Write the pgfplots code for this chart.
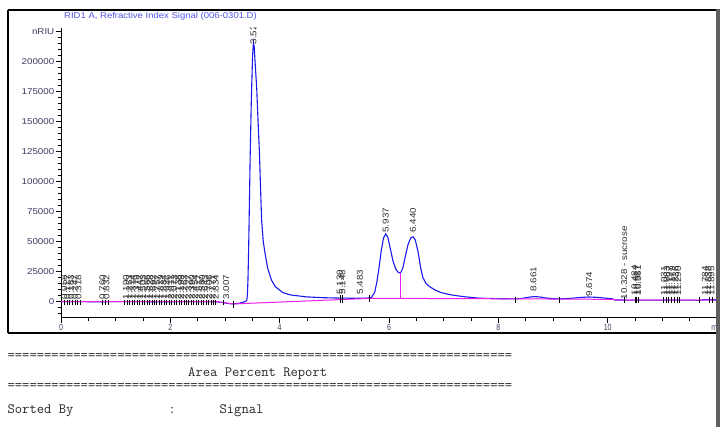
\documentclass[border=0pt]{standalone}
\usepackage{fontspec}
\usepackage{pgfplots}
\pgfplotsset{compat=1.18}
\usepackage{pgfplotstable}
\setmainfont{Liberation Sans}
\newfontfamily\chemfont[FakeStretch=1.15]{Liberation Sans}
\newfontfamily\titlefont[FakeStretch=1.12]{Liberation Sans}
\newfontfamily\chemcond[FakeStretch=0.78]{Liberation Sans}
\definecolor{sigblue}{RGB}{25,25,235}
\definecolor{basepink}{RGB}{235,30,235}
\definecolor{tickcol}{RGB}{60,60,100}
\definecolor{titlecol}{RGB}{85,85,235}
\definecolor{labcol}{RGB}{45,45,45}
\definecolor{bargrey}{RGB}{95,95,95}

\pgfplotstableread{
t v
0.00 0
0.30 100
0.60 -100
0.90 0
1.20 100
1.50 0
1.80 -100
2.10 0
2.40 100
2.70 0
2.85 -100
2.95 -700
3.05 -1500
3.15 -1900
3.25 -1400
3.33 -500
3.38 400
3.40 1500
3.41 6000
3.42 18000
3.43 38000
3.44 64000
3.46 120000
3.48 165000
3.49 182000
3.505 205000
3.52 216000
3.535 212000
3.55 200000
3.58 178000
3.605 150000
3.63 124000
3.65 95000
3.67 68000
3.70 50000
3.73 41000
3.78 28000
3.85 18000
3.92 12500
4.06 7500
4.20 5600
4.49 4000
4.80 3300
5.10 3000
5.40 2800
5.60 3000
5.68 3500
5.74 8000
5.78 17000
5.82 29000
5.86 43000
5.90 53000
5.94 56400
5.98 53500
6.02 45000
6.07 34500
6.12 27500
6.17 24300
6.21 23900
6.25 27500
6.30 38000
6.35 48000
6.40 53300
6.44 54000
6.48 51500
6.53 42000
6.58 28000
6.62 20000
6.68 15000
6.75 12300
6.84 9800
6.95 7600
7.12 5800
7.25 4900
7.42 3900
7.66 2900
8.00 2500
8.32 2300
8.45 2800
8.55 3700
8.65 4200
8.75 4000
8.85 3200
9.00 2500
9.11 2300
9.30 2700
9.50 3500
9.65 3900
9.80 3600
9.95 3000
10.08 2400
10.14 1400
10.50 1300
11.00 1300
11.60 1300
11.68 900
11.75 1700
12.00 1600
}\signal

\pgfplotstableread{
x y lab
0.06 1400 0.058
0.12 1400 0.117
0.18 1400 0.183
0.25 1400 0.247
0.32 1400 0.318
0.76 1400 0.760
0.83 1400 0.832
1.19 1400 1.190
1.25 1400 1.253
1.31 1400 1.314
1.38 1400 1.379
1.44 1400 1.442
1.50 1400 1.503
1.57 1400 1.566
1.63 1400 1.628
1.69 1400 1.692
1.76 1400 1.757
1.82 1400 1.819
1.88 1400 1.884
1.95 1400 1.946
2.01 1400 2.011
2.07 1400 2.073
2.14 1400 2.138
2.20 1400 2.199
2.26 1400 2.263
2.33 1400 2.327
2.39 1400 2.390
2.45 1400 2.454
2.52 1400 2.517
2.58 1400 2.580
2.64 1400 2.643
2.71 1400 2.706
2.77 1400 2.771
2.83 1400 2.834
3.02 1400 3.007
3.52 214000 3.529
5.10 5600 5.130
5.15 5600 5.148
5.47 5600 5.483
5.94 57000 5.937
6.44 57000 6.440
8.64 8000 8.661
9.66 4000 9.674
10.30 1600 {10.328 - sucrose}
10.49 4700 10.484
10.53 4700 10.517
10.56 4700 10.561
11.03 4700 11.031
11.08 4700 11.083
11.13 4700 11.127
11.18 4700 11.179
11.24 4700 11.236
11.29 4700 11.290
11.78 4700 11.784
11.84 4700 11.838
11.90 4700 11.895
}\peaklabels

\begin{document}
\begin{tikzpicture}
\path[use as bounding box] (0pt,0pt) rectangle (727pt,427pt);
\fill[white] (0pt,0pt) rectangle (727pt,427pt);

\begin{axis}[
  at={(61pt,109pt)}, anchor=south west,
  scale only axis, width=656pt, height=290.04pt,
  xmin=0, xmax=12, ymin=-13600, ymax=228100,
  axis x line*=bottom, axis y line*=left,
  axis line style={black, line width=1pt},
  clip marker paths=true,
  scaled y ticks=false, scaled x ticks=false,
  tick align=outside,
  major tick length=5pt, minor tick length=3.5pt,
  every tick/.style={black, line width=0.8pt},
  xtick={0,2,4,6,8,10,12},
  xticklabels={0,2,4,6,8,10,min},
  minor xtick={0.5,1,1.5,2.5,3,3.5,4.5,5,5.5,6.5,7,7.5,8.5,9,9.5,10.5,11,11.5},
  ytick={0,25000,50000,75000,100000,125000,150000,175000,200000,225000},
  yticklabels={0,25000,50000,75000,100000,125000,150000,175000,200000,nRIU},
  minor ytick={-10000,-5000,5000,10000,15000,20000,30000,35000,40000,45000,55000,60000,65000,70000,80000,85000,90000,95000,105000,110000,115000,120000,130000,135000,140000,145000,155000,160000,165000,170000,180000,185000,190000,195000,205000,210000,215000,220000},
  xticklabel style={font=\chemcond\fontsize{9}{10}\selectfont, text=tickcol, inner sep=1pt},
  yticklabel style={font=\chemfont\fontsize{8.5}{10}\selectfont, text=tickcol, inner sep=1.5pt},
]
\addplot[sigblue, line width=1.1pt] table[x=t, y=v] {\signal};
\addplot[basepink, line width=1pt] coordinates {(0,0) (2.85,0) (3.15,-1900) (5.68,2800) (7.66,2500) (8.32,2300) (9.11,2200) (10.10,1900) (10.14,1300) (12,1200)};
\addplot[basepink, line width=1pt] coordinates {(6.21,2600) (6.21,23900)};
% integration event ticks
\addplot[black, only marks, mark=|, mark size=2.7pt, mark options={line width=1pt}] coordinates {
(0.07,-700) (0.11,-700) (0.15,-700) (0.21,-700) (0.26,-700) (0.31,-700) (0.35,-700)
(0.76,-700) (0.82,-700) (0.86,-700)
(1.17,-700) (1.215,-700) (1.26,-700) (1.305,-700) (1.35,-700) (1.395,-700) (1.44,-700) (1.485,-700) (1.53,-700) (1.575,-700)
(1.62,-700) (1.665,-700) (1.71,-700) (1.755,-700) (1.80,-700) (1.845,-700) (1.89,-700) (1.935,-700) (1.98,-700) (2.025,-700)
(2.07,-700) (2.115,-700) (2.16,-700) (2.205,-700) (2.25,-700) (2.295,-700) (2.34,-700) (2.385,-700) (2.43,-700) (2.475,-700)
(2.52,-700) (2.565,-700) (2.61,-700) (2.655,-700) (2.70,-700) (2.745,-700) (2.79,-700) (2.835,-700) (2.98,-700)
};
\addplot[black, only marks, mark=|, mark size=3.5pt, mark options={line width=1pt}] coordinates {(3.15,-2300)};
\addplot[black, only marks, mark=|, mark size=4pt, mark options={line width=1.2pt}] coordinates {(5.11,2200) (5.15,2200)};
\addplot[black, only marks, mark=|, mark size=3.3pt, mark options={line width=1pt}] coordinates {
(5.64,2800) (8.32,1400) (9.11,1400) (10.30,1400) (10.50,1400) (10.53,1400) (10.56,1400)
(11.02,1400) (11.07,1400) (11.12,1400) (11.17,1400) (11.22,1400) (11.27,1400) (11.32,1400)
(11.68,1400) (11.87,1400) (11.92,1400)};
% retention time labels
\addplot[draw=none, nodes near coords={\pgfplotspointmeta}, point meta=explicit symbolic,
  every node near coord/.append style={rotate=90, anchor=west, font=\chemfont\fontsize{8.5}{10}\selectfont, text=labcol, inner sep=0.5pt}]
  table[x=x, y=y, meta=lab] {\peaklabels};
\end{axis}

% title
\node[anchor=west, inner sep=0pt, text=titlecol, font=\titlefont\fontsize{8.5}{10}\selectfont] at (64pt,411pt) {RID1 A, Refractive Index Signal (006-0301.D)};

% frame
\fill[white] (717pt,0pt) rectangle (727pt,427pt);
\draw[black, line width=1.3pt] (8pt,94pt) -- (8pt,416.5pt);
\draw[black, line width=2pt] (8pt,416.5pt) -- (716pt,416.5pt);
\draw[black, line width=1.6pt] (8pt,94pt) -- (716pt,94pt);
\fill[bargrey] (716pt,0pt) rectangle (720pt,417.5pt);

% report text
\begin{scope}[every node/.style={anchor=base west, inner sep=0pt, text={rgb,255:red,40;green,40;blue,40}, font=\ttfamily\fontsize{14.2}{16}\selectfont}]
\node at (7.4pt,67pt) {=====================================================================};
\node at (188pt,50.5pt) {Area Percent Report};
\node at (7.4pt,37pt) {=====================================================================};
\node at (7.4pt,13.5pt) {Sorted By};
\node at (168.2pt,13.5pt) {:};
\node at (219.4pt,13.5pt) {Signal};
\end{scope}
\end{tikzpicture}
\end{document}
